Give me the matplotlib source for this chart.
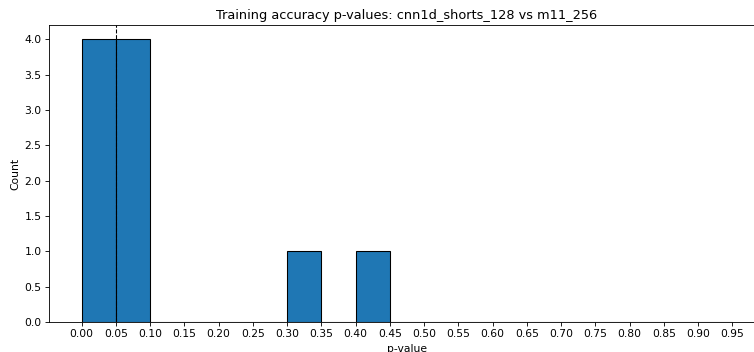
import matplotlib
matplotlib.use("Agg")
import matplotlib.pyplot as plt
import numpy as np

# histogram counts, bins of width 0.05 from 0 to 0.95
bin_edges = np.round(np.arange(0, 0.96, 0.05), 2)
counts = [4, 4, 0, 0, 0, 0, 1, 0, 1, 0, 0, 0, 0, 0, 0, 0, 0, 0, 0]
alpha_line = 0.05
tick_values = np.round(np.arange(0, 0.96, 0.05), 2)

DPI = 77
fig = plt.figure(figsize=(754 / DPI, 352 / DPI), dpi=DPI)
# the original chart is cropped on the right, so the axes run past the edge
ax = fig.add_axes([49 / 754, 30 / 352, 716 / 754, 297 / 352])

centers = (bin_edges[:-1] + bin_edges[1:]) / 2
ax.hist(centers, bins=bin_edges, weights=counts, color="tab:blue", edgecolor="black")
ax.axvline(alpha_line, color="black", linestyle="--", linewidth=1)

ax.set_xticks(tick_values)
ax.set_xticklabels([f"{t:.2f}" for t in tick_values])
ax.set_xlim(-0.0475, 0.9975)
ax.set_ylim(0, 4.2)
ax.set_xlabel("p-value")
ax.set_ylabel("Count")
ax.set_title("Training accuracy p-values: cnn1d_shorts_128 vs m11_256")

plt.savefig("out.png", dpi=DPI)
